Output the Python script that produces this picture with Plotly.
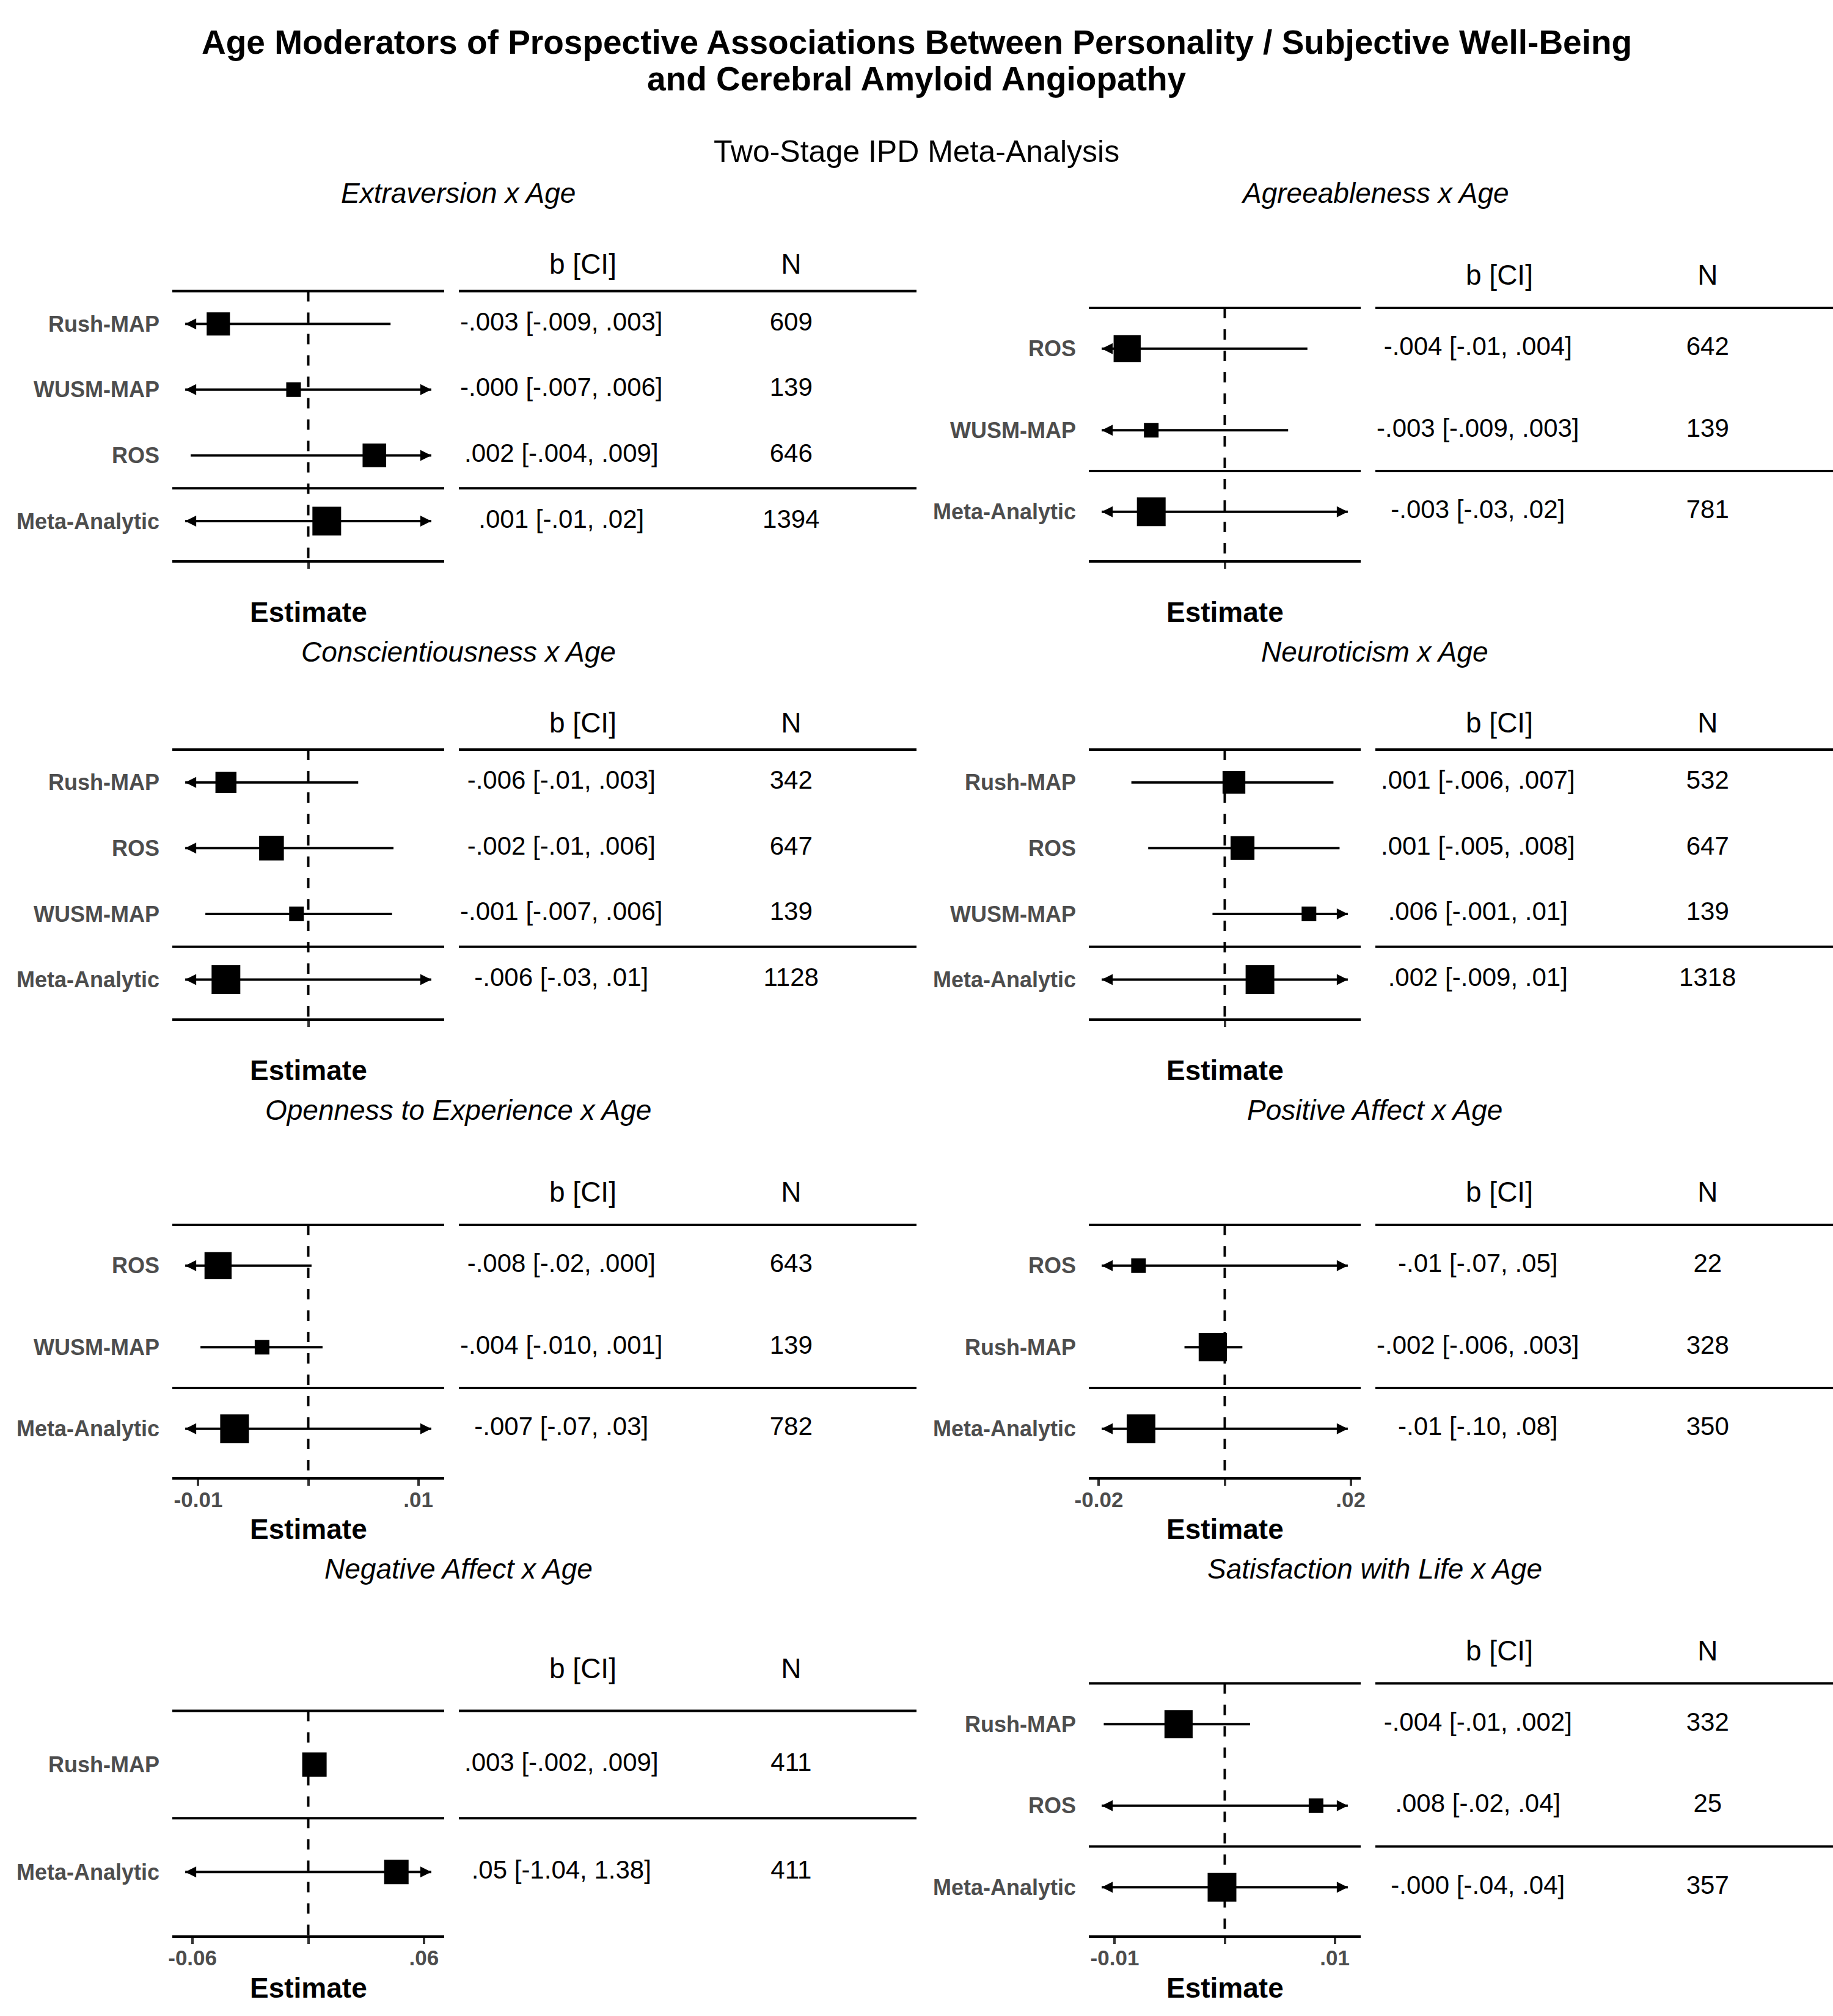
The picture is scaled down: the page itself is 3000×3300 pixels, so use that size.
import math
import plotly.graph_objects as go

FONT = "Liberation Sans, Arial, Helvetica, sans-serif"
W, H = 3000, 3300

# ---------------- data ----------------
main_title_1 = "Age Moderators of Prospective Associations Between Personality / Subjective Well-Being"
main_title_2 = "and Cerebral Amyloid Angiopathy"
subtitle = "Two-Stage IPD Meta-Analysis"
header_b = "b [CI]"
header_n = "N"
x_title = "Estimate"

# Extraversion
ext_title = "Extraversion x Age"
ext_study = ["Rush-MAP", "WUSM-MAP", "ROS", "Meta-Analytic"]
ext_est = [-0.00306, -0.0005, 0.00225, 0.00063]
ext_lo = [-0.009, -0.007, -0.0040, -0.01]
ext_hi = [0.0028, 0.006, 0.009, 0.02]
ext_lab = ["-.003 [-.009, .003]", "-.000 [-.007, .006]", ".002 [-.004, .009]", ".001 [-.01, .02]"]
ext_n = [609, 139, 646, 1394]

# Agreeableness
agr_title = "Agreeableness x Age"
agr_study = ["ROS", "WUSM-MAP", "Meta-Analytic"]
agr_est = [-0.00425, -0.0032, -0.0032]
agr_lo = [-0.01, -0.009, -0.03]
agr_hi = [0.0036, 0.00276, 0.02]
agr_lab = ["-.004 [-.01, .004]", "-.003 [-.009, .003]", "-.003 [-.03, .02]"]
agr_n = [642, 139, 781]

# Conscientiousness
con_title = "Conscientiousness x Age"
con_study = ["Rush-MAP", "ROS", "WUSM-MAP", "Meta-Analytic"]
con_est = [-0.0056, -0.0025, -0.0008, -0.0056]
con_lo = [-0.010, -0.010, -0.0070, -0.03]
con_hi = [0.0034, 0.0058, 0.0057, 0.01]
con_lab = ["-.006 [-.01, .003]", "-.002 [-.01, .006]", "-.001 [-.007, .006]", "-.006 [-.03, .01]"]
con_n = [342, 647, 139, 1128]

# Neuroticism
neu_title = "Neuroticism x Age"
neu_study = ["Rush-MAP", "ROS", "WUSM-MAP", "Meta-Analytic"]
neu_est = [0.0006, 0.00116, 0.0055, 0.0023]
neu_lo = [-0.0061, -0.0050, -0.0008, -0.009]
neu_hi = [0.0071, 0.0075, 0.01, 0.01]
neu_lab = [".001 [-.006, .007]", ".001 [-.005, .008]", ".006 [-.001, .01]", ".002 [-.009, .01]"]
neu_n = [532, 647, 139, 1318]

# Openness
ope_title = "Openness to Experience x Age"
ope_study = ["ROS", "WUSM-MAP", "Meta-Analytic"]
ope_est = [-0.0082, -0.0042, -0.0067]
ope_lo = [-0.02, -0.0098, -0.07]
ope_hi = [0.0003, 0.0013, 0.03]
ope_lab = ["-.008 [-.02, .000]", "-.004 [-.010, .001]", "-.007 [-.07, .03]"]
ope_n = [643, 139, 782]

# Positive Affect
pa_title = "Positive Affect x Age"
pa_study = ["ROS", "Rush-MAP", "Meta-Analytic"]
pa_est = [-0.0137, -0.0019, -0.0133]
pa_lo = [-0.07, -0.0064, -0.10]
pa_hi = [0.05, 0.0028, 0.08]
pa_lab = ["-.01 [-.07, .05]", "-.002 [-.006, .003]", "-.01 [-.10, .08]"]
pa_n = [22, 328, 350]

# Negative Affect
na_title = "Negative Affect x Age"
na_study = ["Rush-MAP", "Meta-Analytic"]
na_est = [0.0032, 0.0457]
na_lo = [-0.002, -1.04]
na_hi = [0.009, 1.38]
na_lab = [".003 [-.002, .009]", ".05 [-1.04, 1.38]"]
na_n = [411, 411]

# Satisfaction with Life
swl_title = "Satisfaction with Life x Age"
swl_study = ["Rush-MAP", "ROS", "Meta-Analytic"]
swl_est = [-0.0042, 0.0083, -0.00025]
swl_lo = [-0.0110, -0.02, -0.04]
swl_hi = [0.0023, 0.04, 0.04]
swl_lab = ["-.004 [-.01, .002]", ".008 [-.02, .04]", "-.000 [-.04, .04]"]
swl_n = [332, 25, 357]

# axis half-ranges and tick labels per panel
x_half = [0.004625, 0.00592, 0.00925, 0.00888, 0.01236, 0.0216, 0.0705, 0.01236]
tick_vals = [[0], [0], [0], [0], [-0.01, 0, 0.01], [-0.02, 0, 0.02], [-0.06, 0, 0.06], [-0.01, 0, 0.01]]
tick_text = [[""], [""], [""], [""], ["-0.01", "", ".01"], ["-0.02", "", ".02"], ["-0.06", "", ".06"], ["-0.01", "", ".01"]]

panels = [
    (ext_title, ext_study, ext_est, ext_lo, ext_hi, ext_lab, ext_n),
    (agr_title, agr_study, agr_est, agr_lo, agr_hi, agr_lab, agr_n),
    (con_title, con_study, con_est, con_lo, con_hi, con_lab, con_n),
    (neu_title, neu_study, neu_est, neu_lo, neu_hi, neu_lab, neu_n),
    (ope_title, ope_study, ope_est, ope_lo, ope_hi, ope_lab, ope_n),
    (pa_title, pa_study, pa_est, pa_lo, pa_hi, pa_lab, pa_n),
    (na_title, na_study, na_est, na_lo, na_hi, na_lab, na_n),
    (swl_title, swl_study, swl_est, swl_lo, swl_hi, swl_lab, swl_n),
]

# ---------------- layout helpers ----------------
def pxx(p):
    return p / W


def pxy(p):
    return 1 - p / H


def axname(kind, k):
    return kind + "axis" + ("" if k == 1 else str(k))


def axref(kind, k):
    return kind + ("" if k == 1 else str(k))


fig = go.Figure()
layout = dict(
    template="none",
    width=W, height=H, margin=dict(l=0, r=0, t=0, b=0, pad=0, autoexpand=False),
    paper_bgcolor="white", plot_bgcolor="white", showlegend=False,
    font=dict(family=FONT, color="black"),
)
shapes = []
annotations = []

LINE_W = 4
CI_W = 4
ROW_PITCH = 750.5
BOTTOM0 = 916.5
PANEL_H = 554.6

for i, (title, study, est, lo, hi, lab, nn) in enumerate(panels):
    r, c = divmod(i, 2)
    n = len(study)
    kf, kt = 2 * i + 1, 2 * i + 2
    B = BOTTOM0 + ROW_PITCH * r
    T = B - PANEL_H
    ydom = [pxy(B), pxy(T)]
    xoff = 1500 * c
    fdom = [pxx(282 + xoff), pxx(727 + xoff)]
    tdom = [pxx(751 + xoff), pxx(1500 + xoff)]
    yr = [0.41, n + 1.564]
    ys = [n - k for k in range(n)]
    R = x_half[i]
    L = 0.905 * R

    # square sizes from N (area scaling within panel)
    nmin, nmax = min(nn), max(nn)
    if nmax == nmin:
        sizes = [40 for _ in nn]
    else:
        sizes = [24 + math.sqrt((v - nmin) / (nmax - nmin)) * 23 for v in nn]

    layout[axname("x", kf)] = dict(
        domain=fdom, range=[-R, R], anchor=axref("y", kf), automargin=False,
        showline=True, linewidth=LINE_W, linecolor="black",
        ticks="outside", ticklen=10, tickwidth=4, tickcolor="#333333",
        tickvals=tick_vals[i], ticktext=tick_text[i], ticklabelstandoff=-7,
        tickfont=dict(family=FONT, size=35, color="#4d4d4d", weight="bold"),
        showgrid=False, zeroline=False, fixedrange=True,
    )
    layout[axname("y", kf)] = dict(
        domain=ydom, range=yr, anchor=axref("x", kf), automargin=False,
        showline=False, showgrid=False, zeroline=False, ticks="",
        tickvals=ys, ticktext=study, ticklabelstandoff=20,
        tickfont=dict(family=FONT, size=36, color="#4d4d4d", weight="bold"),
        fixedrange=True,
    )
    layout[axname("x", kt)] = dict(domain=tdom, range=[0, 1], anchor=axref("y", kt),
                                   visible=False, fixedrange=True, automargin=False)
    layout[axname("y", kt)] = dict(domain=ydom, range=yr, anchor=axref("x", kt),
                                   visible=False, fixedrange=True, automargin=False)

    xf, yf = axref("x", kf), axref("y", kf)
    xt, yt = axref("x", kt), axref("y", kt)

    # CI lines
    lx, ly = [], []
    for k in range(n):
        lx += [max(lo[k], -L), min(hi[k], L), None]
        ly += [ys[k], ys[k], None]
    fig.add_trace(go.Scatter(x=lx, y=ly, mode="lines", line=dict(color="black", width=CI_W),
                             xaxis=xf, yaxis=yf, hoverinfo="skip", cliponaxis=False))
    # arrows for clipped intervals
    al = [ys[k] for k in range(n) if lo[k] < -L]
    ar = [ys[k] for k in range(n) if hi[k] > L]
    if al:
        fig.add_trace(go.Scatter(x=[-L] * len(al), y=al, mode="markers",
                                 marker=dict(symbol="arrow-left", size=18, color="black", opacity=1),
                                 xaxis=xf, yaxis=yf, hoverinfo="skip", cliponaxis=False))
    if ar:
        fig.add_trace(go.Scatter(x=[L] * len(ar), y=ar, mode="markers",
                                 marker=dict(symbol="arrow-right", size=18, color="black", opacity=1),
                                 xaxis=xf, yaxis=yf, hoverinfo="skip", cliponaxis=False))
    # squares
    fig.add_trace(go.Scatter(x=est, y=ys, mode="markers",
                             marker=dict(symbol="square", size=sizes, color="black", opacity=1,
                                         line=dict(width=0)),
                             xaxis=xf, yaxis=yf, hoverinfo="skip", cliponaxis=False))
    # table text
    fig.add_trace(go.Scatter(x=[0.224] * n, y=ys, mode="text", text=lab,
                             textfont=dict(family=FONT, size=42, color="black"),
                             xaxis=xt, yaxis=yt, hoverinfo="skip", cliponaxis=False))
    fig.add_trace(go.Scatter(x=[0.726] * n, y=ys, mode="text", text=[str(v) for v in nn],
                             textfont=dict(family=FONT, size=42, color="black"),
                             xaxis=xt, yaxis=yt, hoverinfo="skip", cliponaxis=False))
    fig.add_trace(go.Scatter(x=[0.271, 0.726], y=[n + 0.87, n + 0.87], mode="text",
                             text=[header_b, header_n],
                             textfont=dict(family=FONT, size=46, color="black"),
                             xaxis=xt, yaxis=yt, hoverinfo="skip", cliponaxis=False))

    # dashed zero line
    shapes.append(dict(type="line", xref=xf, yref=yf, x0=0, x1=0, y0=n + 0.5, y1=yr[0],
                       line=dict(color="black", width=4, dash="17px,18px"), layer="below"))
    # horizontal rules
    for yy in (n + 0.5, 1.5):
        shapes.append(dict(type="line", xref=xf + " domain", yref=yf, x0=0, x1=1, y0=yy, y1=yy,
                           line=dict(color="black", width=LINE_W), layer="below"))
        shapes.append(dict(type="line", xref=xt + " domain", yref=yt, x0=0, x1=1, y0=yy, y1=yy,
                           line=dict(color="black", width=LINE_W), layer="below"))

    # panel title
    annotations.append(dict(text=title, x=pxx(750 + xoff), y=pxy(316 + ROW_PITCH * r),
                            xref="paper", yref="paper", xanchor="center", yanchor="middle",
                            showarrow=False,
                            font=dict(family=FONT, size=46, color="black", style="italic")))
    # x axis title
    annotations.append(dict(text=x_title, x=pxx(504.5 + xoff), y=pxy(1002 + ROW_PITCH * r),
                            xref="paper", yref="paper", xanchor="center", yanchor="middle",
                            showarrow=False,
                            font=dict(family=FONT, size=46, color="black", weight="bold")))

annotations.append(dict(text=main_title_1, x=0.5, y=pxy(69), xref="paper", yref="paper",
                        xanchor="center", yanchor="middle", showarrow=False,
                        font=dict(family=FONT, size=55, color="black", weight="bold")))
annotations.append(dict(text=main_title_2, x=0.5, y=pxy(129), xref="paper", yref="paper",
                        xanchor="center", yanchor="middle", showarrow=False,
                        font=dict(family=FONT, size=55, color="black", weight="bold")))
annotations.append(dict(text=subtitle, x=0.5, y=pxy(248), xref="paper", yref="paper",
                        xanchor="center", yanchor="middle", showarrow=False,
                        font=dict(family=FONT, size=50, color="black")))

layout["shapes"] = shapes
layout["annotations"] = annotations
fig.update_layout(**layout)
fig.write_html("out.html")
